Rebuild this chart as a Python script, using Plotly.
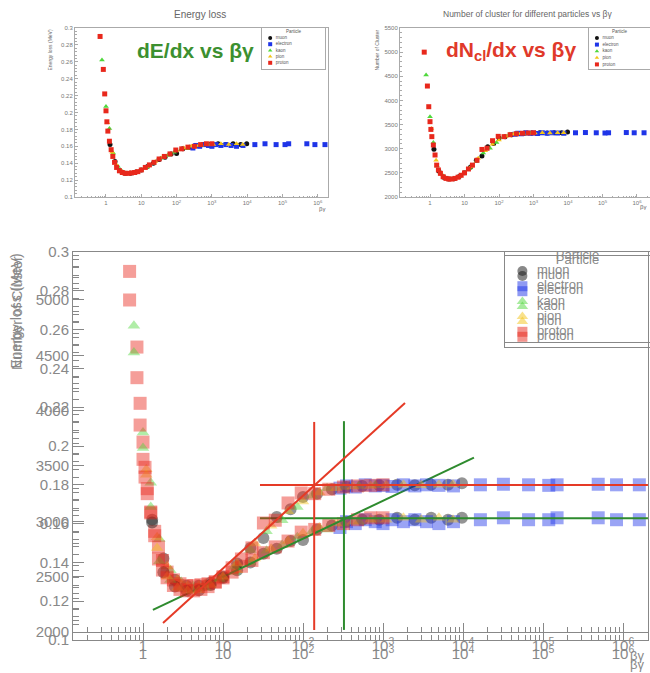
import plotly.graph_objects as go

W, H = 650, 673


def fx(p):
    return p / W


def fy(p):
    return 1 - p / H


# ---------------- data ----------------
particles = ["muon", "electron", "kaon", "pion", "proton"]

muon_bg = [1.3, 1.8, 2.5, 3.5, 5, 7, 10, 15, 22, 32, 47, 70, 100, 150, 230, 350, 550, 900, 1500, 2500, 4000, 6500, 9700]
muon_dedx = [0.162, 0.142, 0.131, 0.128, 0.128, 0.1295, 0.132, 0.136, 0.140, 0.1445, 0.147, 0.151, 0.1515, 0.157, 0.159, 0.161, 0.162, 0.162, 0.163, 0.162, 0.163, 0.162, 0.163]
muon_ncl = [2990, 2540, 2410, 2372, 2378, 2425, 2500, 2620, 2760, 2850, 3040, 3110, 3220, 3250, 3290, 3310, 3320, 3325, 3330, 3325, 3330, 3330, 3345]

electron_bg = [290, 350, 450, 600, 800, 1000, 1300, 1800, 2500, 3500, 5000, 7600, 16500, 32000, 66000, 118000, 150000, 490000, 830000, 1600000]
electron_dedx = [0.158, 0.161, 0.160, 0.162, 0.161, 0.160, 0.162, 0.161, 0.162, 0.161, 0.160, 0.161, 0.162, 0.163, 0.162, 0.162, 0.163, 0.163, 0.162, 0.162]
electron_ncl = [3300, 3320, 3310, 3330, 3320, 3325, 3315, 3330, 3320, 3330, 3325, 3320, 3330, 3335, 3330, 3325, 3330, 3335, 3330, 3330]

kaon_bg = [0.77, 1.0, 1.25, 1.6, 2.2, 3.0, 4.2, 6, 9, 14, 22, 35, 55, 85, 130, 200, 320, 500, 800]
kaon_dedx = [0.262, 0.207, 0.181, 0.152, 0.136, 0.130, 0.128, 0.129, 0.131, 0.135, 0.140, 0.146, 0.149, 0.153, 0.156, 0.157, 0.160, 0.161, 0.162]
kaon_ncl = [4525, 3662, 3130, 2640, 2470, 2390, 2372, 2400, 2480, 2590, 2740, 2910, 3010, 3130, 3230, 3300, 3310, 3320, 3325]

pion_bg = [1.1, 1.5, 2, 2.7, 3.6, 5, 7, 10, 15, 25, 40, 65, 100, 160, 260, 420, 700, 1100, 1800, 3000, 5000, 7500]
pion_dedx = [0.188, 0.153, 0.138, 0.131, 0.128, 0.128, 0.1295, 0.132, 0.136, 0.142, 0.147, 0.151, 0.155, 0.158, 0.160, 0.161, 0.162, 0.162, 0.163, 0.162, 0.163, 0.162]
pion_ncl = [3420, 2760, 2500, 2400, 2373, 2378, 2425, 2500, 2620, 2800, 2960, 3090, 3180, 3260, 3300, 3315, 3320, 3325, 3330, 3325, 3330, 3332]

proton_bg = [0.68, 0.84, 0.92, 1.0, 1.06, 1.13, 1.25, 1.4, 1.56, 1.75, 2.0, 2.4, 2.9, 3.5, 4.3, 5.3, 6.5, 8, 10, 13, 17, 23, 32, 45, 65, 95, 140, 210, 320, 480, 700, 1000]
proton_dedx = [0.290, 0.251, 0.222, 0.202, 0.189, 0.178, 0.166, 0.156, 0.148, 0.141, 0.135, 0.131, 0.129, 0.128, 0.128, 0.1285, 0.129, 0.130, 0.132, 0.135, 0.138, 0.141, 0.145, 0.148, 0.151, 0.1556, 0.157, 0.159, 0.160, 0.162, 0.163, 0.163]
proton_ncl = [5000, 4298, 3870, 3560, 3400, 3250, 3076, 2870, 2660, 2560, 2490, 2420, 2385, 2372, 2372, 2385, 2410, 2450, 2500, 2580, 2660, 2760, 2985, 3010, 3166, 3256, 3250, 3290, 3310, 3320, 3325, 3330]

# guide lines drawn over the overlay (red: clusters, green: energy loss)
red_vert_bg = [138, 138]
red_vert_ncl = [2018, 3898]
red_horiz_bg = [29, 2.05e6]
red_horiz_ncl = [3329, 3329]
red_diag_bg = [1.78, 1884]
red_diag_ncl = [2081, 4070]
green_vert_bg = [325, 325]
green_vert_dedx = [0.1052, 0.2128]
green_horiz_bg = [29, 2.05e6]
green_horiz_dedx = [0.1628, 0.1628]
green_diag_bg = [1.33, 13700]
green_diag_dedx = [0.1155, 0.194]

bg_ticks = [1, 10, 100, 1e3, 1e4, 1e5, 1e6]
bg_ticktext = ["1", "10", "10<sup>2</sup>", "10<sup>3</sup>", "10<sup>4</sup>", "10<sup>5</sup>", "10<sup>6</sup>"]
bg_minor = [m * 10 ** k for k in range(-1, 7) for m in range(2, 10)]

data = {
    "muon": (muon_bg, muon_dedx, muon_ncl),
    "electron": (electron_bg, electron_dedx, electron_ncl),
    "kaon": (kaon_bg, kaon_dedx, kaon_ncl),
    "pion": (pion_bg, pion_dedx, pion_ncl),
    "proton": (proton_bg, proton_dedx, proton_ncl),
}

symbols = {"muon": "circle", "electron": "square", "kaon": "triangle-up",
           "pion": "triangle-up", "proton": "square"}
colors = {"muon": "#111111", "electron": "#1f35e8", "kaon": "#4fd83c",
          "pion": "#f3c418", "proton": "#e8281c"}
big_size = {"muon": 12, "electron": 13, "kaon": 11, "pion": 11, "proton": 13}

fig = go.Figure()

# ---------------- top-left and top-right small plots ----------------
for p in particles:
    bg, de, nc = data[p]
    fig.add_trace(go.Scatter(x=bg, y=de, mode="markers", xaxis="x", yaxis="y",
                             marker=dict(symbol=symbols[p], size=5, color=colors[p], line=dict(width=0)),
                             showlegend=False, hoverinfo="skip"))
for p in particles:
    bg, de, nc = data[p]
    fig.add_trace(go.Scatter(x=bg, y=nc, mode="markers", xaxis="x2", yaxis="y2",
                             marker=dict(symbol=symbols[p], size=5, color=colors[p], line=dict(width=0)),
                             showlegend=False, hoverinfo="skip"))

# ---------------- bottom overlay ----------------
for p in particles:
    bg, de, nc = data[p]
    fig.add_trace(go.Scatter(x=bg, y=de, mode="markers", xaxis="x3", yaxis="y3",
                             marker=dict(symbol=symbols[p], size=big_size[p], color=colors[p],
                                         opacity=0.45, line=dict(width=0)),
                             showlegend=False, hoverinfo="skip"))
fig.add_trace(go.Scatter(x=green_vert_bg, y=green_vert_dedx, mode="lines", xaxis="x3", yaxis="y3",
                         line=dict(color="#2e8b2e", width=2), showlegend=False, hoverinfo="skip"))
fig.add_trace(go.Scatter(x=green_horiz_bg, y=green_horiz_dedx, mode="lines", xaxis="x3", yaxis="y3",
                         line=dict(color="#2e8b2e", width=2), showlegend=False, hoverinfo="skip"))
fig.add_trace(go.Scatter(x=green_diag_bg, y=green_diag_dedx, mode="lines", xaxis="x3", yaxis="y3",
                         line=dict(color="#2e8b2e", width=2), showlegend=False, hoverinfo="skip"))

for p in particles:
    bg, de, nc = data[p]
    fig.add_trace(go.Scatter(x=bg, y=nc, mode="markers", xaxis="x4", yaxis="y4",
                             marker=dict(symbol=symbols[p], size=big_size[p], color=colors[p],
                                         opacity=0.45, line=dict(width=0)),
                             showlegend=False, hoverinfo="skip"))
fig.add_trace(go.Scatter(x=red_vert_bg, y=red_vert_ncl, mode="lines", xaxis="x4", yaxis="y4",
                         line=dict(color="#e53a26", width=2), showlegend=False, hoverinfo="skip"))
fig.add_trace(go.Scatter(x=red_horiz_bg, y=red_horiz_ncl, mode="lines", xaxis="x4", yaxis="y4",
                         line=dict(color="#e53a26", width=2), showlegend=False, hoverinfo="skip"))
fig.add_trace(go.Scatter(x=red_diag_bg, y=red_diag_ncl, mode="lines", xaxis="x4", yaxis="y4",
                         line=dict(color="#e53a26", width=2), showlegend=False, hoverinfo="skip"))


# ---------------- legends (drawn on their own small axes) ----------------
def add_legend(ax, msize, fsize, mx, tx, opacity, tcolor):
    rows = list(range(len(particles)))
    fig.add_trace(go.Scatter(
        x=[mx] * len(particles), y=rows, mode="markers", xaxis="x" + ax, yaxis="y" + ax,
        marker=dict(symbol=[symbols[p] for p in particles], size=msize,
                    color=[colors[p] for p in particles], opacity=opacity, line=dict(width=0)),
        showlegend=False, hoverinfo="skip"))
    fig.add_trace(go.Scatter(
        x=[tx] * len(particles), y=rows, mode="text", text=particles, textposition="middle right",
        textfont=dict(size=fsize, color=tcolor, family="Liberation Sans"),
        xaxis="x" + ax, yaxis="y" + ax, showlegend=False, hoverinfo="skip"))
    fig.add_trace(go.Scatter(
        x=[0.5], y=[-1], mode="text", text=["Particle"], textposition="middle center",
        textfont=dict(size=fsize, color=tcolor, family="Liberation Sans"),
        xaxis="x" + ax, yaxis="y" + ax, showlegend=False, hoverinfo="skip"))


add_legend("5", 4, 4.5, 0.13, 0.22, 1.0, "#555")
add_legend("6", 4, 4.5, 0.13, 0.22, 1.0, "#555")
add_legend("7", 10, 13, 0.12, 0.22, 0.5, "#888")
add_legend("8", 10, 13, 0.12, 0.22, 0.5, "#888")

# ---------------- axes ----------------
small_font = dict(size=6, color="#777", family="Liberation Sans")
big_font = dict(size=15, color="#888", family="Liberation Sans")


def log_x(domain, rng, anchor, font, tl, mtl, lc, mirror=True):
    return dict(type="log", domain=domain, range=rng, anchor=anchor, automargin=False,
                tickmode="array", tickvals=bg_ticks, ticktext=bg_ticktext,
                ticks="inside", ticklen=tl, tickcolor=lc, tickfont=font,
                minor=dict(tickmode="array", tickvals=bg_minor, ticks="inside", ticklen=mtl, tickcolor=lc),
                showline=True, linecolor=lc, linewidth=1, mirror=mirror,
                showgrid=False, zeroline=False)


def lin_y(domain, rng, anchor, font, t0, dt, mdt, tl, mtl, lc, mirror=True):
    return dict(domain=domain, range=rng, anchor=anchor, automargin=False, tickmode="linear", tick0=t0,
                dtick=dt, ticks="inside", ticklen=tl, tickcolor=lc, tickfont=font,
                minor=dict(dtick=mdt, tick0=t0, ticks="inside", ticklen=mtl, tickcolor=lc),
                showline=True, linecolor=lc, linewidth=1, mirror=mirror,
                showgrid=False, zeroline=False)


def legend_axes(xd, yd, rng_y, lc, mirror_y=True):
    xa = dict(domain=xd, range=[0, 1], showticklabels=False, ticks="", showgrid=False, automargin=False,
              zeroline=False, showline=True, linecolor=lc, linewidth=1, mirror=True, fixedrange=True)
    ya = dict(domain=yd, range=rng_y, showticklabels=False, ticks="", showgrid=False, automargin=False,
              zeroline=False, showline=True, linecolor=lc, linewidth=1, mirror=mirror_y, fixedrange=True)
    return xa, ya


def rows_range(top_px, bottom_px, first_px, step):
    return [(bottom_px - first_px) / step, (top_px - first_px) / step]


layout = dict(
    template="none",
    width=W, height=H, margin=dict(l=0, r=0, t=0, b=0, pad=0),
    paper_bgcolor="white", plot_bgcolor="rgba(0,0,0,0)", showlegend=False,
    font=dict(family="Liberation Sans", color="#777"),
)

layout["xaxis"] = log_x([fx(75), fx(328)], [-0.878, 6.29], "y", small_font, 3, 1.5, "#aaa")
layout["yaxis"] = lin_y([fy(197), fy(28)], [0.1, 0.3], "x", small_font, 0.1, 0.02, 0.004, 3, 1.5, "#aaa")
layout["xaxis2"] = log_x([fx(400), 1.0], [-0.87, 6.377], "y2", small_font, 3, 1.5, "#aaa")
layout["yaxis2"] = lin_y([fy(197), fy(28)], [2000, 5500], "x2", small_font, 2000, 500, 100, 3, 1.5, "#aaa", mirror=False)

layout["xaxis3"] = log_x([fx(73), fx(648)], [-0.875, 6.3125], "y3", big_font, 9, 5, "#888")
layout["yaxis3"] = lin_y([fy(640), fy(252)], [0.1, 0.3], "x3", big_font, 0.1, 0.02, 0.004, 11, 6, "#888")
layout["xaxis4"] = log_x([fx(73), fx(648)], [-0.875, 6.3125], "y4", big_font, 9, 5, "#888")
layout["yaxis4"] = lin_y([fy(632), fy(252)], [2000, 5433.6], "x4", big_font, 2000, 500, 100, 11, 6, "#888")

x5, y5 = legend_axes([fx(262), fx(325)], [fy(69), fy(28)], rows_range(28, 69, 38, 6.2), "#aaa")
x6, y6 = legend_axes([fx(589), 1.0], [fy(69), fy(28)], rows_range(28, 69, 38, 6.6), "#aaa", mirror_y=False)
x7, y7 = legend_axes([fx(505), 1.0], [fy(342), fy(252)], rows_range(252, 342, 271, 15.2), "#888", mirror_y=False)
x8, y8 = legend_axes([fx(505), 1.0], [fy(347), fy(256)], rows_range(256, 347, 276, 15.2), "#888", mirror_y=False)
layout.update(xaxis5=dict(x5, anchor="y5"), yaxis5=dict(y5, anchor="x5"),
              xaxis6=dict(x6, anchor="y6"), yaxis6=dict(y6, anchor="x6"),
              xaxis7=dict(x7, anchor="y7"), yaxis7=dict(y7, anchor="x7"),
              xaxis8=dict(x8, anchor="y8"), yaxis8=dict(y8, anchor="x8"))

fig.update_layout(**layout)


# ---------------- annotations ----------------
def ann(text, x, y, size, color="#777", bold=False, xanchor="center", yanchor="middle", angle=0):
    fig.add_annotation(text=("<b>%s</b>" % text) if bold else text, x=fx(x), y=fy(y),
                       xref="paper", yref="paper", showarrow=False, xanchor=xanchor, yanchor=yanchor,
                       textangle=angle, font=dict(size=size, color=color, family="Liberation Sans"))


ann("Energy loss", 200, 14, 10, "#666")
ann("Number of cluster for different particles vs βγ", 527, 14, 8.5, "#666")
ann("dE/dx vs βγ", 195, 51, 21, "#3c9030", bold=True)
ann("dN<sub>cl</sub>/dx vs βγ", 511, 51, 21, "#e0392a", bold=True)
ann("Energy loss (MeV)", 50, 28, 5, "#666", yanchor="top", angle=-90)
ann("Number of Cluster", 377, 28, 5, "#666", yanchor="top", angle=-90)
ann("βγ", 322, 209, 6, "#666")
ann("βγ", 643, 207, 6, "#666")
ann("Energy loss (MeV)", 15, 252, 14, "#888", yanchor="top", angle=-90)
ann("Number of Cluster", 17, 254, 14, "#888", yanchor="top", angle=-90)
ann("βγ", 637, 655, 13, "#888")
ann("βγ", 637, 664, 13, "#888")

fig.write_html("out.html", config={"displayModeBar": False, "staticPlot": True},
               post_script="document.body.style.margin='0px';document.body.style.overflow='hidden';")
